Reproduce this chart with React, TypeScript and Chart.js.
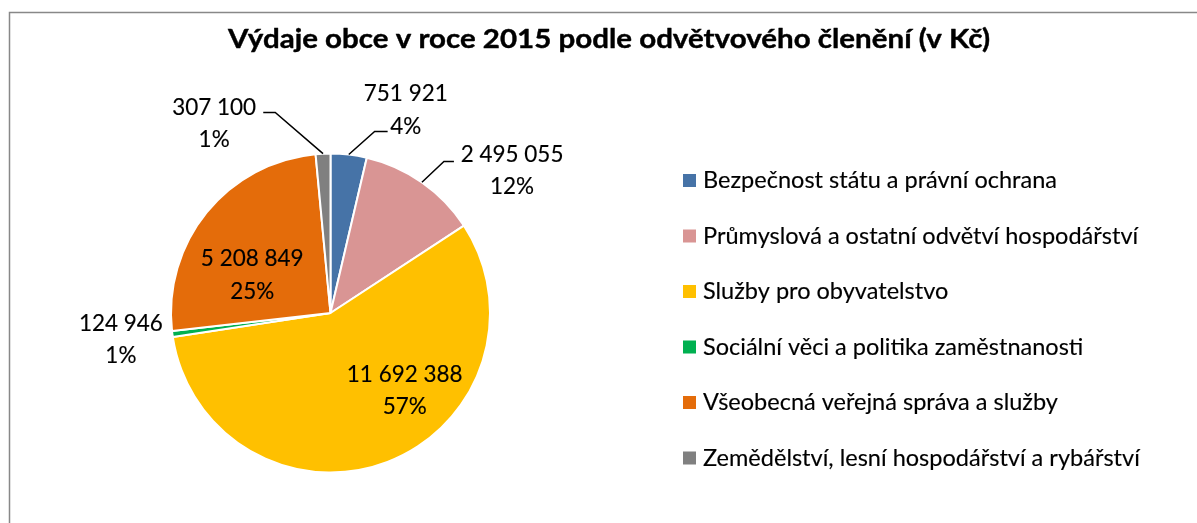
import React, { useEffect, useRef } from "react";
import { Chart, registerables } from "chart.js";

Chart.register(...registerables);

const TITLE = "Výdaje obce v roce 2015 podle odvětvového členění (v Kč)";
const categories = [
  "Bezpečnost státu a právní ochrana",
  "Průmyslová a ostatní odvětví hospodářství",
  "Služby pro obyvatelstvo",
  "Sociální věci a politika zaměstnanosti",
  "Všeobecná veřejná správa a služby",
  "Zemědělství, lesní hospodářství a rybářství",
];
const values = [751921, 2495055, 11692388, 124946, 5208849, 307100];
const colors = ["#4673A7", "#D99594", "#FFC000", "#00B050", "#E46C0A", "#808080"];

// label block centres, in units of pie radius, relative to pie centre
const labelDx = [0.469, 1.131, 0.4625, -1.306, -0.4875, -0.725];
const labelDy = [-1.266, -0.888, 0.481, 0.1625, -0.2375, -1.181];
// leader lines: label-side end (radius units) and horizontal run toward pie (px)
const leaderOn = [true, true, false, false, false, true];
const leaderDx = [0.356, 0.769, 0, 0, 0, -0.419];
const leaderDy = [-1.131, -0.944, 0, 0, 0, -1.25];
const leaderRun = [-13, -10, 0, 0, 0, 12];

const FONT = "Lato, 'Open Sans', sans-serif";

function fmt(n: number): string {
  return String(n).replace(/\B(?=(\d{3})+(?!\d))/g, " ");
}

function xScale(ctx: CanvasRenderingContext2D, text: string, target: number): number {
  return target / ctx.measureText(text).width;
}

function drawText(ctx: CanvasRenderingContext2D, text: string, x: number, y: number, sx: number, thicken = 0) {
  ctx.save();
  ctx.translate(x, y);
  ctx.scale(sx, 1);
  ctx.fillText(text, 0, 0);
  if (thicken > 0) {
    ctx.lineWidth = thicken;
    ctx.strokeStyle = ctx.fillStyle as string;
    ctx.lineJoin = "round";
    ctx.strokeText(text, 0, 0);
  }
  ctx.restore();
}

const decorPlugin = {
  id: "decor",
  beforeDraw(chart: any) {
    const ctx = chart.ctx as CanvasRenderingContext2D;
    ctx.save();
    ctx.fillStyle = "#ffffff";
    ctx.fillRect(0, 0, chart.width, chart.height);
    ctx.strokeStyle = "#888888";
    ctx.lineWidth = 1.5;
    ctx.beginPath();
    ctx.moveTo(chart.width + 2, 12.5);
    ctx.lineTo(9.5, 12.5);
    ctx.lineTo(9.5, chart.height + 2);
    ctx.stroke();

    // title
    ctx.font = `bold 26.5px ${FONT}`;
    ctx.fillStyle = "#000000";
    ctx.textAlign = "center";
    ctx.textBaseline = "alphabetic";
    drawText(ctx, TITLE, 609, 48, xScale(ctx, TITLE, 762), 0.4);
    ctx.restore();
  },
  afterDatasetsDraw(chart: any) {
    const ctx = chart.ctx as CanvasRenderingContext2D;
    const meta = chart.getDatasetMeta(0);
    const data: number[] = chart.data.datasets[0].data;
    const total = data.reduce((a, b) => a + b, 0);
    ctx.save();
    ctx.font = `normal 24px ${FONT}`;
    const lsx = xScale(ctx, fmt(values[0]), 84);
    ctx.fillStyle = "#000000";
    ctx.textAlign = "center";
    ctx.textBaseline = "alphabetic";
    meta.data.forEach((arc: any, i: number) => {
      const p = arc.getProps(["x", "y", "startAngle", "endAngle", "outerRadius"], true);
      const r = p.outerRadius + 1;
      const cx = p.x + labelDx[i] * r;
      const cy = p.y + labelDy[i] * r;
      drawText(ctx, fmt(data[i]), cx, cy - 8.5, lsx, 0.15);
      drawText(ctx, Math.round((data[i] / total) * 100) + "%", cx, cy + 24, lsx, 0.15);
      if (leaderOn[i]) {
        const mid = (p.startAngle + p.endAngle) / 2;
        const sx = p.x + Math.cos(mid) * p.outerRadius;
        const sy = p.y + Math.sin(mid) * p.outerRadius;
        const ex = p.x + leaderDx[i] * r;
        const ey = p.y + leaderDy[i] * r;
        ctx.strokeStyle = "#000000";
        ctx.lineWidth = 1.5;
        ctx.beginPath();
        ctx.moveTo(sx, sy);
        ctx.lineTo(ex + leaderRun[i], ey);
        ctx.lineTo(ex, ey);
        ctx.stroke();
      }
    });

    // legend
    ctx.font = `normal 23px ${FONT}`;
    const gsx = xScale(ctx, categories[0], 354);
    ctx.textAlign = "left";
    categories.forEach((c, i) => {
      const y = 180 + i * 55.5;
      ctx.fillStyle = colors[i];
      ctx.fillRect(683, y - 6, 13, 13);
      ctx.fillStyle = "#000000";
      drawText(ctx, c, 703, y + 8, gsx, 0.15);
    });
    ctx.restore();
  },
};

export default function App() {
  const ref = useRef<HTMLCanvasElement | null>(null);
  useEffect(() => {
    if (!ref.current) return;
    const chart = new Chart(ref.current, {
      type: "pie",
      data: {
        labels: categories,
        datasets: [
          {
            data: values,
            backgroundColor: colors,
            borderColor: "#ffffff",
            borderWidth: 2,
          },
        ],
      },
      options: {
        responsive: false,
        animation: false,
        layout: { padding: { left: 170, top: 152, right: 706, bottom: 49 } },
        plugins: {
          legend: { display: false },
          title: { display: false },
          tooltip: { enabled: false },
        },
      },
      plugins: [decorPlugin],
    });
    return () => chart.destroy();
  }, []);
  return (
    <div style={{ position: "fixed", left: 0, top: 0, width: 1197, height: 523, background: "#fff" }}>
      <canvas ref={ref} width={1197} height={523} style={{ display: "block", width: 1197, height: 523 }} />
    </div>
  );
}
